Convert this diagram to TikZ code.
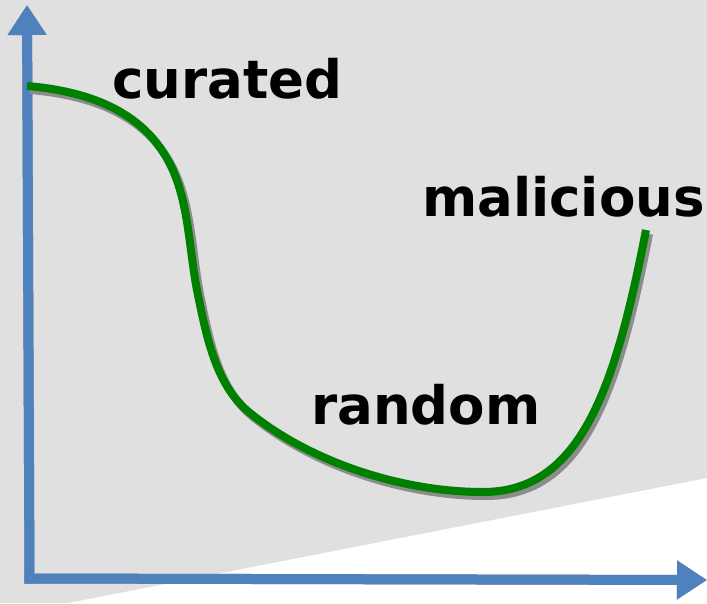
\documentclass[tikz,border=0pt]{standalone}
\usepackage{fontspec}
\setmainfont{DejaVu Sans}
\usetikzlibrary{arrows.meta}
\definecolor{axisblue}{HTML}{4F81BD}
\definecolor{panegray}{HTML}{E0E0E0}
\definecolor{curvegreen}{HTML}{008000}
\definecolor{shadowgray}{HTML}{8C8C8C}
\newcommand{\curvepath}{(27,86) .. controls (87,91) and (136,110) ..
    (163,152) .. controls (189,191) and (188,244) ..
    (197,290) .. controls (206,334) and (215,385) ..
    (250,413) .. controls (312,463) and (403,492) ..
    (483,492) .. controls (580,492) and (615,390) .. (646,230)}
\pgfmathsetmacro{\shadowX}{3}
\pgfmathsetmacro{\shadowY}{4}

\tikzset{
  axis/.style={line width=10pt, line cap=rect, draw=axisblue,
    -{Triangle[width=37pt,length=30pt]}},
  axisshadow/.style={axis, draw=shadowgray, xshift=\shadowX pt, yshift=-\shadowY pt},
  curve/.style={line width=8pt, draw=curvegreen},
  curveshadow/.style={curve, draw=shadowgray, xshift=\shadowX pt, yshift=-\shadowY pt},
  region/.style={inner sep=0pt, anchor=base west,
    font=\fontsize{53}{61}\selectfont\bfseries}
}

\begin{document}
\begin{tikzpicture}[x=1pt,y=-1pt]
\useasboundingbox (0,0) rectangle (707,603);

% shaded pane
\fill[panegray](0,0) -- (707,0) -- (707,478) -- (68,603) -- (0,603) -- cycle;

% axes
\coordinate(origin) at (29.5,578.5);
\coordinate(ytip) at (27,5);
\coordinate(xtip) at (707,580);
\draw[axisshadow](origin) -- (ytip);
\draw[axisshadow](origin) -- (xtip);
\draw[axis](origin) -- (ytip);
\draw[axis](origin) -- (xtip);

% curve
\draw[curveshadow]\curvepath;
\draw[curve]\curvepath;

% labels
\node[region](curated) at (112,98) {curated};
\node[region](malicious) at (422,216) {malicious};
\node[region](random) at (311,424) {random};

\end{tikzpicture}
\end{document}
